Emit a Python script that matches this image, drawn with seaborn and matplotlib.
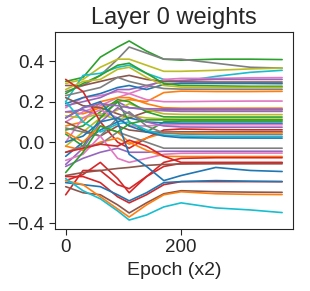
import pandas as pd
import seaborn as sns
import matplotlib
matplotlib.use("Agg")
import matplotlib.pyplot as plt

epochs = [0, 30, 60, 90, 110, 140, 170, 200, 260, 320, 375]

# one list per weight trace (values at the epochs above)
w01 = [0.30, 0.32, 0.42, 0.47, 0.50, 0.45, 0.41, 0.405, 0.41, 0.41, 0.408]
w02 = [0.25, 0.28, 0.33, 0.41, 0.47, 0.44, 0.41, 0.41, 0.39, 0.37, 0.366]
w03 = [0.29, 0.31, 0.37, 0.41, 0.41, 0.38, 0.35, 0.35, 0.355, 0.362, 0.366]
w04 = [0.20, 0.33, 0.34, 0.37, 0.38, 0.34, 0.31, 0.30, 0.325, 0.345, 0.355]
w05 = [0.17, 0.22, 0.23, 0.25, 0.24, 0.27, 0.31, 0.315, 0.315, 0.318, 0.319]
w06 = [0.18, 0.20, 0.22, 0.26, 0.26, 0.28, 0.30, 0.305, 0.31, 0.31, 0.31]
w07 = [0.28, 0.28, 0.30, 0.32, 0.33, 0.31, 0.30, 0.298, 0.297, 0.297, 0.297]
w08 = [0.19, 0.22, 0.24, 0.27, 0.28, 0.26, 0.285, 0.29, 0.29, 0.29, 0.289]
w09 = [0.24, 0.29, 0.33, 0.38, 0.39, 0.34, 0.29, 0.28, 0.278, 0.276, 0.276]
w10 = [0.26, 0.30, 0.31, 0.36, 0.37, 0.32, 0.28, 0.272, 0.27, 0.27, 0.27]
w11 = [0.23, 0.25, 0.27, 0.32, 0.30, 0.28, 0.265, 0.262, 0.261, 0.261, 0.261]
w12 = [0.15, 0.14, 0.17, 0.20, 0.21, 0.20, 0.245, 0.252, 0.25, 0.25, 0.251]
w13 = [0.10, 0.15, 0.18, 0.22, 0.24, 0.21, 0.20, 0.20, 0.202, 0.203, 0.203]
w14 = [0.08, 0.10, 0.20, 0.22, 0.22, 0.19, 0.17, 0.168, 0.168, 0.168, 0.168]
w15 = [0.22, 0.18, 0.17, 0.14, 0.12, 0.15, 0.16, 0.16, 0.16, 0.16, 0.16]
w16 = [0.15, 0.16, 0.13, 0.20, 0.17, 0.16, 0.155, 0.152, 0.152, 0.152, 0.152]
w17 = [-0.02, 0.05, 0.12, 0.16, 0.19, 0.16, 0.14, 0.137, 0.136, 0.136, 0.136]
w18 = [0.06, 0.08, 0.15, 0.21, 0.20, 0.15, 0.125, 0.124, 0.124, 0.124, 0.124]
w19 = [0.13, 0.12, 0.14, 0.11, 0.13, 0.12, 0.115, 0.114, 0.114, 0.114, 0.114]
w20 = [0.04, -0.02, 0.12, 0.20, 0.10, 0.05, 0.10, 0.104, 0.104, 0.104, 0.104]
w21 = [-0.07, 0.0, 0.06, 0.10, 0.12, 0.10, 0.095, 0.094, 0.094, 0.094, 0.094]
w22 = [0.0, 0.12, 0.16, 0.12, 0.08, 0.08, 0.085, 0.086, 0.086, 0.086, 0.086]
w23 = [-0.11, -0.03, 0.10, 0.17, 0.14, 0.10, 0.08, 0.075, 0.074, 0.074, 0.074]
w24 = [0.31, 0.25, 0.10, 0.0, -0.03, 0.02, 0.06, 0.065, 0.062, 0.061, 0.061]
w25 = [0.10, 0.06, 0.03, 0.08, 0.06, 0.05, 0.05, 0.051, 0.051, 0.051, 0.051]
w26 = [-0.02, -0.04, 0.0, 0.02, -0.01, 0.02, 0.045, 0.046, 0.046, 0.046, 0.046]
w27 = [0.07, 0.05, 0.03, 0.12, 0.15, 0.08, 0.045, 0.04, 0.038, 0.038, 0.038]
w28 = [0.20, 0.10, 0.05, 0.09, 0.10, 0.06, 0.035, 0.03, 0.028, 0.028, 0.028]
w29 = [0.0, 0.03, 0.10, 0.12, 0.08, 0.05, 0.03, 0.022, 0.02, 0.02, 0.02]
w30 = [-0.05, -0.02, -0.01, 0.05, 0.03, 0.0, -0.03, -0.03, -0.03, -0.03, -0.03]
w31 = [-0.12, -0.08, -0.05, -0.03, -0.05, -0.05, -0.045, -0.045, -0.045, -0.045, -0.045]
w32 = [-0.09, -0.06, 0.03, -0.08, -0.10, -0.08, -0.06, -0.055, -0.054, -0.054, -0.054]
w33 = [0.05, 0.0, 0.08, 0.05, 0.0, -0.04, -0.07, -0.071, -0.071, -0.071, -0.071]
w34 = [-0.19, -0.16, -0.10, -0.18, -0.25, -0.17, -0.10, -0.08, -0.077, -0.077, -0.077]
w35 = [-0.26, -0.14, -0.14, -0.21, -0.23, -0.17, -0.12, -0.105, -0.102, -0.102, -0.102]
w36 = [-0.165, -0.15, -0.14, -0.13, -0.125, -0.115, -0.11, -0.108, -0.107, -0.107, -0.107]
w37 = [0.12, 0.17, 0.20, 0.10, -0.06, -0.12, -0.19, -0.165, -0.125, -0.14, -0.145]
w38 = [-0.17, -0.17, -0.20, -0.27, -0.30, -0.26, -0.21, -0.195, -0.195, -0.195, -0.195]
w39 = [-0.20, -0.21, -0.22, -0.26, -0.29, -0.25, -0.20, -0.195, -0.19, -0.193, -0.195]
w40 = [-0.22, -0.25, -0.26, -0.31, -0.35, -0.30, -0.255, -0.24, -0.245, -0.247, -0.248]
w41 = [-0.19, -0.21, -0.27, -0.33, -0.37, -0.31, -0.26, -0.245, -0.255, -0.258, -0.259]
w42 = [-0.18, -0.24, -0.28, -0.34, -0.385, -0.36, -0.32, -0.30, -0.325, -0.335, -0.348]
w43 = [-0.05, -0.03, -0.01, -0.02, 0.01, -0.02, -0.07, -0.10, -0.10, -0.10, -0.10]
w44 = [-0.15, -0.05, 0.08, 0.05, 0.09, 0.11, 0.11, 0.11, 0.11, 0.11, 0.11]
w45 = [0.12, 0.17, 0.19, 0.18, 0.17, 0.165, 0.165, 0.164, 0.163, 0.163, 0.163]

traces = [w01, w02, w03, w04, w05, w06, w07, w08, w09, w10,
          w11, w12, w13, w14, w15, w16, w17, w18, w19, w20,
          w21, w22, w23, w24, w25, w26, w27, w28, w29, w30,
          w31, w32, w33, w34, w35, w36, w37, w38, w39, w40,
          w41, w42, w43, w44, w45]

# tab10 colour name for each trace
trace_colors = ["green", "gray", "olive", "cyan", "pink", "purple", "brown", "blue", "green", "olive",
                "gray", "orange", "pink", "orange", "brown", "purple", "olive", "green", "olive", "green",
                "blue", "pink", "purple", "red", "brown", "orange", "gray", "cyan", "blue", "gray",
                "purple", "pink", "orange", "red", "red", "brown", "blue", "red", "blue", "brown",
                "orange", "cyan", "red", "green", "purple"]

rows = []
for i, vals in enumerate(traces):
    for e, v in zip(epochs, vals):
        rows.append({"epoch": e, "weight": v, "idx": f"w{i:02d}"})
df = pd.DataFrame(rows)

palette = {f"w{i:02d}": "tab:" + c for i, c in enumerate(trace_colors)}

sns.set_style("ticks")
plt.rcParams["font.family"] = ["Liberation Sans", "DejaVu Sans"]

fig, ax = plt.subplots(figsize=(3.1, 2.91), dpi=100)
fig.subplots_adjust(left=0.177, right=0.945, bottom=0.213, top=0.89)

sns.lineplot(data=df, x="epoch", y="weight", hue="idx", palette=palette,
             legend=False, linewidth=1.2, ax=ax)

ax.set_xticks([0, 200])
ax.set_yticks([-0.4, -0.2, 0.0, 0.2, 0.4])
ax.tick_params(labelsize=13.5, length=4)
ax.set_xlabel("Epoch (x2)", fontsize=14)
ax.set_ylabel("")
ax.set_title("Layer 0 weights", fontsize=17)

fig.savefig("out.png", dpi=100)
